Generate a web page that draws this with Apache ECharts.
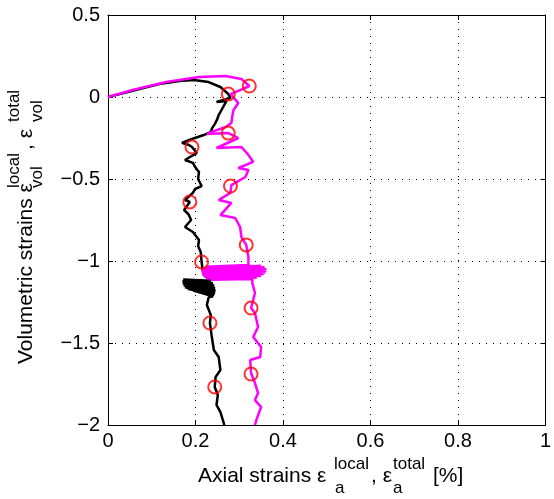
<!DOCTYPE html>
<html>
<head>
<meta charset="utf-8">
<script src="https://cdn.jsdelivr.net/npm/echarts@6/dist/echarts.min.js"></script>
<style>
html,body{margin:0;padding:0;background:#fff;}
#chart{width:554px;height:499px;}
</style>
</head>
<body>
<div id="chart"></div>
<script>
// x ticks / y ticks
var xTicks = [0, 0.2, 0.4, 0.6, 0.8, 1];
var yTicks = [-2, -1.5, -1, -0.5, 0, 0.5];

// local strains curve (black): [axial, volumetric]
var localCurve = [
  [0,0],[0.027,0.018],[0.072,0.049],[0.117,0.079],[0.163,0.098],[0.196,0.104],[0.230,0.091],
  [0.257,0.061],[0.275,0.018],[0.280,-0.006],[0.248,-0.030],[0.271,-0.024],[0.262,-0.067],
  [0.253,-0.110],[0.249,-0.140],[0.244,-0.165],[0.238,-0.190],[0.235,-0.213],[0.219,-0.232],
  [0.192,-0.256],[0.169,-0.280],[0.185,-0.293],[0.192,-0.305],[0.203,-0.341],[0.176,-0.384],
  [0.194,-0.402],[0.200,-0.430],[0.208,-0.457],[0.206,-0.500],[0.214,-0.543],[0.199,-0.561],
  [0.194,-0.585],[0.176,-0.628],[0.187,-0.640],[0.174,-0.689],[0.184,-0.715],[0.190,-0.750],
  [0.176,-0.793],[0.194,-0.823],[0.208,-0.872],[0.206,-0.910],[0.212,-0.945],[0.214,-1.006],
  [0.216,-1.050],[0.219,-1.085],
  [0.236,-1.120],[0.172,-1.113],[0.240,-1.135],[0.170,-1.125],[0.243,-1.150],[0.171,-1.138],
  [0.245,-1.165],[0.173,-1.150],[0.246,-1.180],[0.176,-1.160],[0.245,-1.195],[0.182,-1.170],
  [0.243,-1.208],[0.195,-1.180],[0.240,-1.215],
  [0.230,-1.222],[0.226,-1.268],[0.235,-1.329],[0.233,-1.378],[0.237,-1.457],[0.242,-1.543],
  [0.253,-1.585],[0.257,-1.665],[0.246,-1.707],[0.244,-1.768],[0.251,-1.817],[0.248,-1.878],
  [0.257,-1.921],[0.264,-1.982],[0.266,-2.0]
];

// total strains curve (magenta)
var totalCurve = [
  [0,0],[0.056,0.043],[0.133,0.091],[0.208,0.122],[0.269,0.128],[0.305,0.110],[0.323,0.067],
  [0.298,0.037],[0.280,0.018],[0.298,-0.037],[0.287,-0.079],[0.284,-0.120],[0.282,-0.159],
  [0.269,-0.183],[0.237,-0.213],[0.226,-0.226],[0.275,-0.220],[0.298,-0.250],[0.248,-0.311],
  [0.305,-0.305],[0.320,-0.350],[0.332,-0.396],[0.298,-0.433],[0.321,-0.445],[0.314,-0.488],
  [0.282,-0.537],[0.280,-0.543],[0.280,-0.585],[0.253,-0.628],[0.282,-0.646],[0.257,-0.720],
  [0.291,-0.738],[0.302,-0.793],[0.305,-0.854],[0.316,-0.902],[0.321,-0.976],[0.321,-1.024],
  [0.225,-1.035],[0.350,-1.030],[0.218,-1.045],[0.358,-1.040],[0.215,-1.055],[0.362,-1.050],
  [0.214,-1.065],[0.362,-1.060],[0.215,-1.075],[0.360,-1.070],[0.217,-1.085],[0.356,-1.080],
  [0.220,-1.095],[0.350,-1.090],[0.225,-1.105],[0.340,-1.100],[0.235,-1.115],[0.330,-1.110],
  [0.330,-1.135],[0.336,-1.195],[0.327,-1.287],[0.336,-1.317],[0.343,-1.402],[0.332,-1.463],
  [0.350,-1.524],[0.348,-1.585],[0.325,-1.604],[0.327,-1.683],[0.336,-1.744],[0.343,-1.805],
  [0.336,-1.848],[0.350,-1.890],[0.339,-1.970],[0.336,-2.0]
];

// red circle markers
var localMarkers = [[0.275,0.018],[0.192,-0.305],[0.187,-0.640],[0.214,-1.006],[0.233,-1.378],[0.244,-1.768]];
var totalMarkers = [[0.323,0.067],[0.275,-0.220],[0.280,-0.543],[0.316,-0.902],[0.327,-1.287],[0.327,-1.689]];

var FONT = '"Liberation Sans", Arial, Helvetica, sans-serif';
function fmt(v){ v = Math.round(v*10)/10; return v < 0 ? '\u2212' + Math.abs(v) : String(v); }

var chart = echarts.init(document.getElementById('chart'), null, {renderer:'canvas'});

var axisLine = {show:true, onZero:false, lineStyle:{color:'#000', width:1}};
var axisTick = {show:true, inside:true, length:5, lineStyle:{color:'#000', width:1}};
var gridLine = {show:true, lineStyle:{color:'#000', width:1, type:[1,6]}};

// text placed by its baseline
function txt(x, baseline, s, size){
  return {type:'text', x:x, y:baseline - Math.round(size*0.33),
    style:{text:s, font: size + 'px ' + FONT, fill:'#000', verticalAlign:'middle', align:'left'}};
}

var option = {
  animation:false,
  backgroundColor:'#fff',
  grid:{left:108, right:3, top:15, bottom:74, containLabel:false},
  xAxis:[
    {type:'value', min:xTicks[0], max:xTicks[xTicks.length-1], interval:0.2, position:'bottom',
      axisLabel:{formatter:fmt, fontSize:20, color:'#000', fontFamily:FONT, margin:6},
      axisLine:axisLine, axisTick:axisTick, splitLine:gridLine},
    {type:'value', min:xTicks[0], max:xTicks[xTicks.length-1], interval:0.2, position:'top', axisLabel:{show:false},
      axisLine:axisLine, axisTick:axisTick, splitLine:{show:false}}
  ],
  yAxis:[
    {type:'value', min:yTicks[0], max:yTicks[yTicks.length-1], interval:0.5, position:'left',
      axisLabel:{formatter:fmt, fontSize:20, color:'#000', fontFamily:FONT, margin:8},
      axisLine:axisLine, axisTick:axisTick, splitLine:gridLine},
    {type:'value', min:yTicks[0], max:yTicks[yTicks.length-1], interval:0.5, position:'right', axisLabel:{show:false},
      axisLine:axisLine, axisTick:axisTick, splitLine:{show:false}}
  ],
  series:[
    {type:'line', data:localCurve, showSymbol:false, symbol:'none', lineStyle:{color:'#000', width:2.5}, z:2},
    {type:'line', data:totalCurve, showSymbol:false, symbol:'none', lineStyle:{color:'#ff00ff', width:2.5}, z:3},
    {type:'scatter', data:localMarkers.concat(totalMarkers), symbol:'circle', symbolSize:13,
      itemStyle:{color:'rgba(0,0,0,0)', borderColor:'#ff0000', borderWidth:2}, z:5}
  ],
  graphic:[
    {type:'group', children:[
      txt(198, 483, 'Axial strains \u03b5', 21),
      txt(334, 470, 'local', 17),
      txt(335, 494, 'a', 17),
      txt(371, 483, ', \u03b5', 21),
      txt(393, 470, 'total', 17),
      txt(393, 494, 'a', 17),
      txt(433, 483, '[%]', 21)
    ]},
    {type:'group', x:33, y:364, rotation:Math.PI/2, children:[
      txt(0, 0, 'Volumetric strains \u03b5', 21),
      txt(176, -13, 'local', 17),
      txt(176, 10, 'vol', 17),
      txt(214, 0, ', \u03b5', 21),
      txt(242, -13, 'total', 17),
      txt(242, 10, 'vol', 17)
    ]}
  ]
};
chart.setOption(option);
</script>
</body>
</html>
